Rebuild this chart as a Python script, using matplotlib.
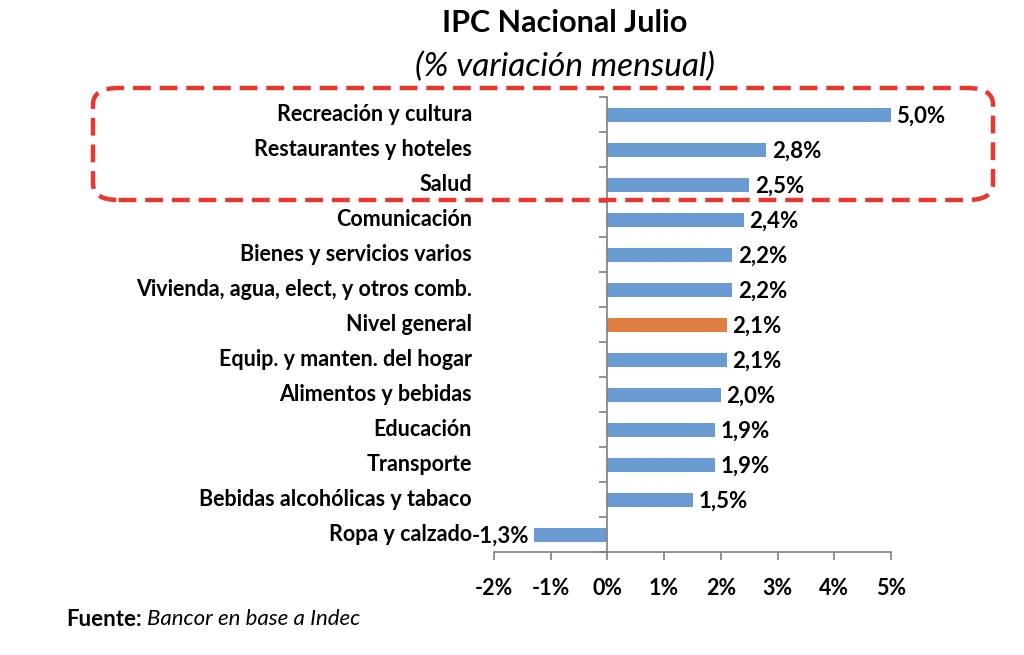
import matplotlib
matplotlib.use("Agg")
import matplotlib.pyplot as plt
from matplotlib.patches import FancyBboxPatch
import matplotlib.transforms as mtransforms

categories = ["Recreación y cultura", "Restaurantes y hoteles", "Salud", "Comunicación",
              "Bienes y servicios varios", "Vivienda, agua, elect, y otros comb.",
              "Nivel general", "Equip. y manten. del hogar", "Alimentos y bebidas",
              "Educación", "Transporte", "Bebidas alcohólicas y tabaco", "Ropa y calzado"]
values = [5.0, 2.8, 2.5, 2.4, 2.2, 2.2, 2.1, 2.1, 2.0, 1.9, 1.9, 1.5, -1.3]
value_labels = ["5,0%", "2,8%", "2,5%", "2,4%", "2,2%", "2,2%", "2,1%", "2,1%", "2,0%",
                "1,9%", "1,9%", "1,5%", "-1,3%"]
xticks = [-2, -1, 0, 1, 2, 3, 4, 5]
xtick_labels = ["-2%", "-1%", "0%", "1%", "2%", "3%", "4%", "5%"]
highlight = "Nivel general"

BLUE = "#6B9BD3"
ORANGE = "#E07F42"
FONT = ["Lato", "DejaVu Sans"]
plt.rcParams['font.family'] = FONT

W, H = 1024, 655
fig = plt.figure(figsize=(W / 100, H / 100), dpi=100)
ax = fig.add_axes([494 / W, 1 - 552 / H, (891 - 494) / W, (552 - 97) / H])

n = len(categories)
ypos = list(range(n))
colors = [ORANGE if c == highlight else BLUE for c in categories]
ax.barh(ypos, values, height=0.4, color=colors, zorder=2)
ax.set_xlim(-2, 5)
ax.set_ylim(n - 0.5, -0.5)

for s in ["top", "right"]:
    ax.spines[s].set_visible(False)
ax.spines["left"].set_position(("data", 0))
for s in ["left", "bottom"]:
    ax.spines[s].set_color("#7f7f7f")
    ax.spines[s].set_linewidth(1.2)

ax.set_yticks(ypos)
ax.set_yticklabels([])
ax.tick_params(axis="y", which="major", length=0)
ax.set_yticks([i - 0.5 for i in range(n + 1)], minor=True)
ax.tick_params(axis="y", which="minor", length=6, width=1.2, color="#7f7f7f", direction="out")

ax.set_xticks(xticks)
ax.set_xticklabels(xtick_labels, fontsize=15.5, fontweight="bold")
ax.tick_params(axis="x", length=6, width=1.2, color="#7f7f7f", pad=13)

trans = mtransforms.blended_transform_factory(ax.transAxes, ax.transData)
for y, c in zip(ypos, categories):
    ax.text(-22 / 397, y, c, transform=trans, ha="right", va="center",
            fontsize=15.5, fontweight="bold", color="black")

for y, v, lab in zip(ypos, values, value_labels):
    off = 4 if v >= 0 else -3
    ax.annotate(lab, (v, y), xytext=(off, -1), textcoords="offset points",
                ha="left" if v >= 0 else "right", va="center",
                fontsize=16, fontweight="bold", color="black")

fig.text(565 / W, 1 - 23 / H, "IPC Nacional Julio", ha="center", va="center",
         fontsize=22, fontweight="bold")
fig.text(565 / W, 1 - 67 / H, "(% variación mensual)", ha="center", va="center",
         fontsize=24, fontstyle="italic")

box = FancyBboxPatch((93 / W, 1 - 200 / H), (993 - 93) / W, (200 - 88) / H,
                     boxstyle="round,pad=0,rounding_size=0.025",
                     transform=fig.transFigure, fill=False, edgecolor="#E8372E",
                     linewidth=3.2, linestyle=(0, (4, 2)), zorder=5)
fig.patches.append(box)

t = fig.text(66 / W, 1 - 619 / H, "Fuente:", ha="left", va="center",
             fontsize=16, fontweight="bold")
fig.canvas.draw()
bb = t.get_window_extent()
fig.text((bb.x1 + 5) / W, 1 - 619 / H, "Bancor en base a Indec", ha="left", va="center",
         fontsize=16, fontstyle="italic")

fig.savefig("out.png", dpi=100)
